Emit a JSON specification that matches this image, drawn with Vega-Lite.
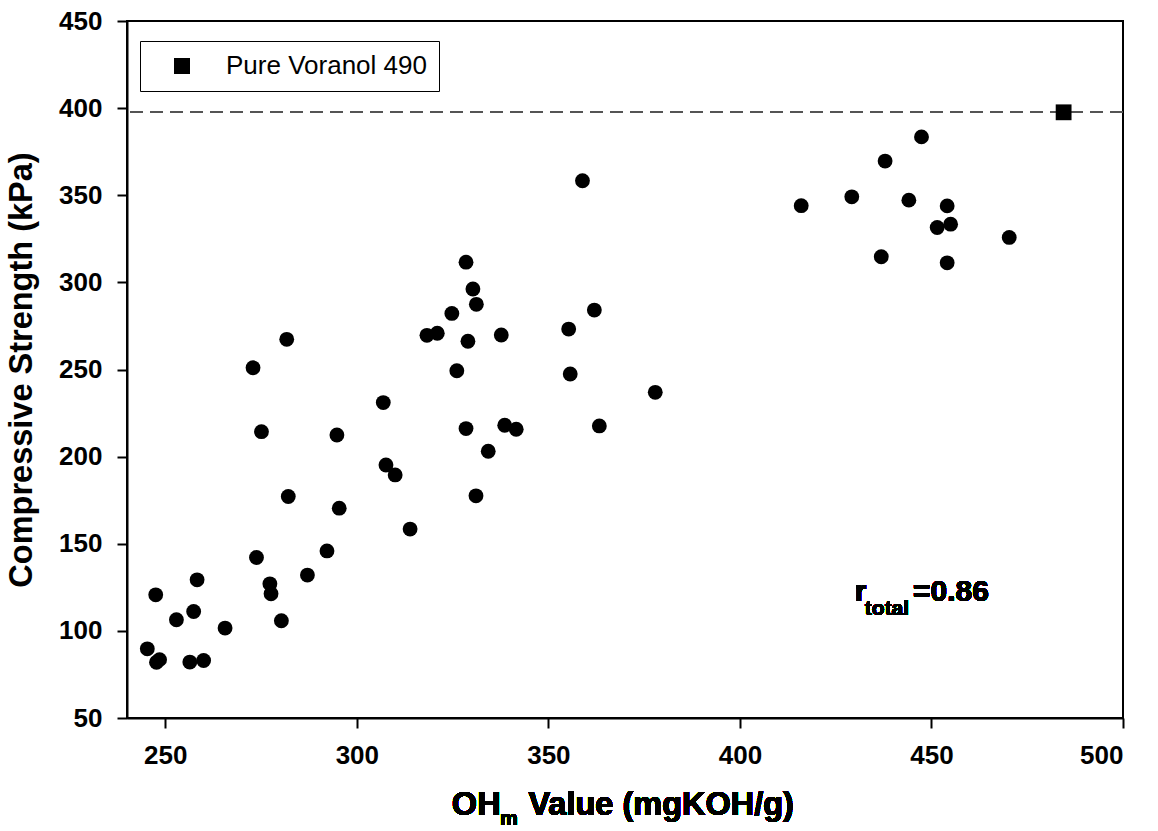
{
  "$schema": "https://vega.github.io/schema/vega-lite/v6.json",
  "autosize": {"type": "none"},
  "padding": {"left": 127, "top": 21, "right": 35, "bottom": 113},
  "width": 996,
  "height": 697,
  "background": "white",
  "config": {
    "font": "Liberation Sans",
    "view": {"stroke": "black", "strokeWidth": 2},
    "axis": {
      "grid": false,
      "domainColor": "black",
      "domainWidth": 2,
      "tickColor": "black",
      "tickWidth": 2,
      "tickSize": 10,
      "labelFont": "Liberation Sans",
      "labelFontSize": 26,
      "labelFontWeight": "bold",
      "labelColor": "black",
      "titleFont": "Liberation Sans",
      "titleFontSize": 32.5,
      "titleFontWeight": "bold",
      "titleColor": "black"
    }
  },
  "data": {
    "values": [
      {"oh": 245.3, "cs": 89.7, "series": "sample"},
      {"oh": 247.7, "cs": 82.0, "series": "sample"},
      {"oh": 248.5, "cs": 83.5, "series": "sample"},
      {"oh": 256.4, "cs": 82.1, "series": "sample"},
      {"oh": 260.0, "cs": 83.0, "series": "sample"},
      {"oh": 247.5, "cs": 120.7, "series": "sample"},
      {"oh": 252.9, "cs": 106.4, "series": "sample"},
      {"oh": 257.4, "cs": 111.1, "series": "sample"},
      {"oh": 258.3, "cs": 129.3, "series": "sample"},
      {"oh": 265.6, "cs": 101.6, "series": "sample"},
      {"oh": 273.8, "cs": 142.1, "series": "sample"},
      {"oh": 277.3, "cs": 127.0, "series": "sample"},
      {"oh": 277.6, "cs": 121.3, "series": "sample"},
      {"oh": 280.3, "cs": 105.8, "series": "sample"},
      {"oh": 287.1, "cs": 132.0, "series": "sample"},
      {"oh": 292.2, "cs": 145.9, "series": "sample"},
      {"oh": 272.9, "cs": 251.0, "series": "sample"},
      {"oh": 275.1, "cs": 214.3, "series": "sample"},
      {"oh": 281.7, "cs": 267.3, "series": "sample"},
      {"oh": 282.1, "cs": 177.1, "series": "sample"},
      {"oh": 294.8, "cs": 212.4, "series": "sample"},
      {"oh": 295.4, "cs": 170.4, "series": "sample"},
      {"oh": 306.9, "cs": 231.0, "series": "sample"},
      {"oh": 307.6, "cs": 195.2, "series": "sample"},
      {"oh": 310.0, "cs": 189.5, "series": "sample"},
      {"oh": 313.9, "cs": 158.4, "series": "sample"},
      {"oh": 318.3, "cs": 269.6, "series": "sample"},
      {"oh": 321.0, "cs": 270.8, "series": "sample"},
      {"oh": 324.8, "cs": 282.2, "series": "sample"},
      {"oh": 326.1, "cs": 249.3, "series": "sample"},
      {"oh": 328.5, "cs": 311.6, "series": "sample"},
      {"oh": 329.0, "cs": 266.2, "series": "sample"},
      {"oh": 328.5, "cs": 216.1, "series": "sample"},
      {"oh": 330.3, "cs": 296.2, "series": "sample"},
      {"oh": 331.2, "cs": 287.4, "series": "sample"},
      {"oh": 331.1, "cs": 177.5, "series": "sample"},
      {"oh": 334.3, "cs": 203.1, "series": "sample"},
      {"oh": 337.7, "cs": 269.8, "series": "sample"},
      {"oh": 338.6, "cs": 218.0, "series": "sample"},
      {"oh": 341.6, "cs": 215.7, "series": "sample"},
      {"oh": 355.3, "cs": 273.2, "series": "sample"},
      {"oh": 355.7, "cs": 247.4, "series": "sample"},
      {"oh": 358.9, "cs": 358.3, "series": "sample"},
      {"oh": 362.0, "cs": 284.1, "series": "sample"},
      {"oh": 363.3, "cs": 217.6, "series": "sample"},
      {"oh": 377.9, "cs": 236.9, "series": "sample"},
      {"oh": 416.0, "cs": 344.0, "series": "sample"},
      {"oh": 429.2, "cs": 349.1, "series": "sample"},
      {"oh": 436.9, "cs": 314.7, "series": "sample"},
      {"oh": 437.9, "cs": 369.6, "series": "sample"},
      {"oh": 444.1, "cs": 347.2, "series": "sample"},
      {"oh": 447.4, "cs": 383.5, "series": "sample"},
      {"oh": 451.5, "cs": 331.5, "series": "sample"},
      {"oh": 454.1, "cs": 343.9, "series": "sample"},
      {"oh": 455.0, "cs": 333.4, "series": "sample"},
      {"oh": 454.1, "cs": 311.2, "series": "sample"},
      {"oh": 470.3, "cs": 325.8, "series": "sample"},
      {"oh": 484.5, "cs": 397.6, "series": "Pure Voranol 490"}
    ]
  },
  "layer": [
    {
      "mark": {"type": "rule", "color": "#555555", "strokeWidth": 1.3, "strokeDash": [13, 7]},
      "encoding": {"y": {"datum": 397.6, "type": "quantitative"}}
    },
    {
      "transform": [{"filter": "datum.series === 'sample'"}],
      "mark": {"type": "circle", "size": 220, "color": "black", "opacity": 1},
      "encoding": {
        "x": {
          "field": "oh", "type": "quantitative",
          "scale": {"domain": [240, 500], "nice": false, "zero": false},
          "axis": {"title": null, "values": [250, 300, 350, 400, 450, 500], "labelPadding": 14}
        },
        "y": {
          "field": "cs", "type": "quantitative",
          "scale": {"domain": [50, 450], "nice": false, "zero": false},
          "axis": {"title": "Compressive Strength (kPa)", "values": [50, 100, 150, 200, 250, 300, 350, 400, 450], "labelPadding": 15, "titlePadding": 20}
        }
      }
    },
    {
      "transform": [{"filter": "datum.series !== 'sample'"}],
      "mark": {"type": "point", "shape": "square", "size": 250, "filled": true, "opacity": 1},
      "encoding": {
        "x": {"field": "oh", "type": "quantitative"},
        "y": {"field": "cs", "type": "quantitative"},
        "color": {
          "field": "series", "type": "nominal",
          "scale": {"domain": ["Pure Voranol 490"], "range": ["black"]},
          "legend": {
            "title": null,
            "orient": "none",
            "legendX": 13,
            "legendY": 20,
            "strokeColor": "black",
            "padding": 12,
            "symbolOffset": 17,
            "symbolType": "square",
            "symbolSize": 256,
            "symbolStrokeWidth": 0,
            "labelFont": "Liberation Sans",
            "labelFontSize": 26,
            "labelColor": "black",
            "labelOffset": 31,
            "labelLimit": 400,
            "encode": {"legend": {"update": {"strokeWidth": {"value": 1.5}}}}
          }
        }
      }
    },
    {
      "mark": {"type": "text", "text": "r", "align": "left", "baseline": "alphabetic", "fontSize": 30, "fontWeight": "bold", "color": "black"},
      "encoding": {"x": {"datum": 430.0}, "y": {"datum": 116.9}}
    },
    {
      "mark": {"type": "text", "text": "total", "align": "left", "baseline": "alphabetic", "fontSize": 21, "fontWeight": "bold", "color": "black"},
      "encoding": {"x": {"datum": 432.6}, "y": {"datum": 109.2}}
    },
    {
      "mark": {"type": "text", "text": "=0.86", "align": "left", "baseline": "alphabetic", "fontSize": 30, "fontWeight": "bold", "color": "black"},
      "encoding": {"x": {"datum": 445.2}, "y": {"datum": 116.9}}
    },
    {
      "mark": {"type": "text", "text": "OH", "align": "left", "baseline": "alphabetic", "fontSize": 32.5, "fontWeight": "bold", "color": "black", "dy": 97},
      "encoding": {"x": {"datum": 324.8}, "y": {"datum": 50}}
    },
    {
      "mark": {"type": "text", "text": "m", "align": "left", "baseline": "alphabetic", "fontSize": 20, "fontWeight": "bold", "color": "black", "dy": 107},
      "encoding": {"x": {"datum": 337.4}, "y": {"datum": 50}}
    },
    {
      "mark": {"type": "text", "text": "Value (mgKOH/g)", "align": "left", "baseline": "alphabetic", "fontSize": 32.5, "fontWeight": "bold", "color": "black", "dy": 97},
      "encoding": {"x": {"datum": 344.8}, "y": {"datum": 50}}
    }
  ]
}
